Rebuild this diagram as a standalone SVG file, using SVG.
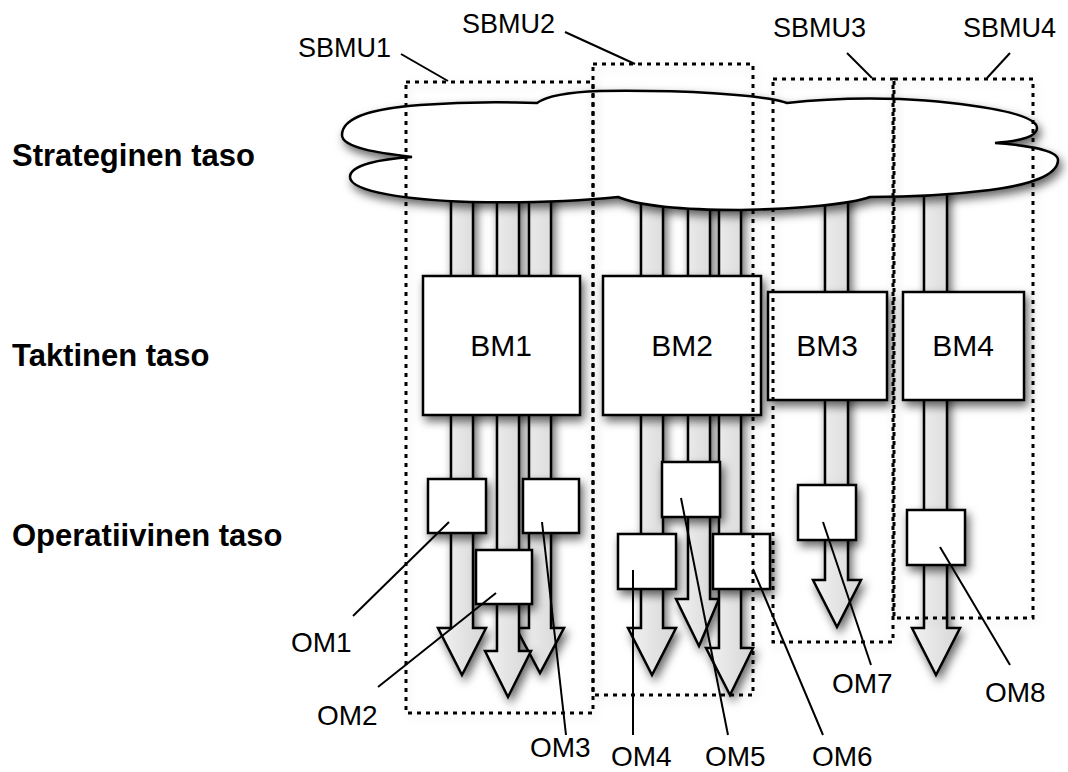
<svg xmlns="http://www.w3.org/2000/svg" width="1068" height="772" viewBox="0 0 1068 772">
<defs>
<filter id="sh" x="-30%" y="-30%" width="160%" height="160%">
<feDropShadow dx="3" dy="5" stdDeviation="5" flood-color="#000" flood-opacity="0.6"/>
</filter>
<filter id="shl" x="-10%" y="-10%" width="120%" height="120%">
<feDropShadow dx="2" dy="3" stdDeviation="4" flood-color="#000" flood-opacity="0.15"/>
</filter>
<linearGradient id="ag" x1="0" y1="0" x2="1" y2="0">
<stop offset="0" stop-color="#f2f2f2"/>
<stop offset="1" stop-color="#d6d6d6"/>
</linearGradient>
</defs>
<style>
.arr{fill:url(#ag);stroke:#000;stroke-width:2.5;stroke-linejoin:miter;filter:url(#sh)}
.box{fill:#fff;stroke:#000;stroke-width:2.5;filter:url(#sh)}
.dash{fill:none;stroke:#000;stroke-width:3;stroke-dasharray:4 5;filter:url(#shl)}
.lead{stroke:#000;stroke-width:2;fill:none}
.lvl{font-family:"Liberation Sans",Arial,sans-serif;font-weight:bold;font-size:31px;fill:#000}
.bm{font-family:"Liberation Sans",Arial,sans-serif;font-size:30px;fill:#000;text-anchor:middle}
.lbl{font-family:"Liberation Sans",Arial,sans-serif;font-size:28px;fill:#000}
.sb{font-family:"Liberation Sans",Arial,sans-serif;font-size:27px;fill:#000}
</style>

<g id="level-labels">
<text class="lvl" x="12" y="166">Strateginen taso</text>
<text class="lvl" x="12" y="366">Taktinen taso</text>
<text class="lvl" x="12" y="546">Operatiivinen taso</text>
</g>

<g id="arrows">
<path class="arr" d="M451,180 L473,180 L473,628 L486,628 L462,675 L438,628 L451,628 Z"/>
<path class="arr" d="M529,180 L551,180 L551,628 L564,628 L540,673 L516,628 L529,628 Z"/>
<path class="arr" d="M497,180 L519,180 L519,651 L531,651 L508,697 L485,651 L497,651 Z"/>
<path class="arr" d="M641,180 L663,180 L663,628 L676,628 L652,675 L628,628 L641,628 Z"/>
<path class="arr" d="M688,180 L710,180 L710,599 L719,599 L699,646 L676,599 L688,599 Z"/>
<path class="arr" d="M719,180 L741,180 L741,648 L753,648 L730,695 L706,648 L719,648 Z"/>
<path class="arr" d="M825,180 L848,180 L848,580 L861,580 L837,627 L813,580 L825,580 Z"/>
<path class="arr" d="M924,180 L947,180 L947,628 L960,628 L936,675 L912,628 L924,628 Z"/>
</g>

<g id="cloud">
<path fill="#fff" stroke="#000" stroke-width="2.5" filter="url(#sh)" d="M412,157 C380,153 342,148 342,135 C342,115 380,108 420,105 C460,102 510,102 537,103 C548,95 570,92 600,91 C680,90 760,94 787,103 C830,98 870,98 900,99 C960,102 1037,112 1037,128 C1037,137 1020,141 995,143 C1025,145 1058,150 1058,160 C1058,175 1030,185 990,190 C950,195 900,197 870,197 C850,204 800,209 740,210 C680,210 640,206 618,197 C580,201 520,203 470,202 C410,200 350,192 350,177 C350,165 380,159 412,157 Z"/>
</g>

<g id="BM1"><rect class="box" x="423" y="276" width="157" height="139"/><text class="bm" x="501" y="356">BM1</text></g>
<g id="BM2"><rect class="box" x="603" y="276" width="158" height="139"/><text class="bm" x="682" y="356">BM2</text></g>
<g id="BM3"><rect class="box" x="768" y="292" width="119" height="108"/><text class="bm" x="827" y="356">BM3</text></g>
<g id="BM4"><rect class="box" x="903" y="292" width="121" height="108"/><text class="bm" x="963" y="356">BM4</text></g>

<g id="OM1"><rect class="box" x="428" y="479" width="58" height="54"/></g>
<g id="OM3"><rect class="box" x="523" y="479" width="56" height="54"/></g>
<g id="OM2"><rect class="box" x="476" y="550" width="56" height="54"/></g>
<g id="OM5"><rect class="box" x="662" y="462" width="58" height="55"/></g>
<g id="OM4"><rect class="box" x="618" y="534" width="58" height="55"/></g>
<g id="OM6"><rect class="box" x="713" y="534" width="57" height="55"/></g>
<g id="OM7"><rect class="box" x="798" y="485" width="58" height="55"/></g>
<g id="OM8"><rect class="box" x="907" y="510" width="58" height="55"/></g>

<g id="SBMU1"><rect class="dash" x="406" y="82" width="187" height="631"/></g>
<g id="SBMU2"><rect class="dash" x="593" y="64" width="160" height="631"/></g>
<g id="SBMU3"><rect class="dash" x="773" y="79" width="120" height="563"/></g>
<g id="SBMU4"><rect class="dash" x="894" y="79" width="139" height="539"/></g>

<g id="connectors">
<line class="lead" x1="401" y1="54" x2="448" y2="81"/>
<line class="lead" x1="565" y1="32" x2="635" y2="64"/>
<line class="lead" x1="847" y1="53" x2="872" y2="78"/>
<line class="lead" x1="1010" y1="53" x2="987" y2="78"/>
<line class="lead" x1="449" y1="522" x2="353" y2="616"/>
<line class="lead" x1="496" y1="593" x2="378" y2="687"/>
<line class="lead" x1="542" y1="522" x2="566" y2="735"/>
<line class="lead" x1="633" y1="570" x2="633" y2="735"/>
<line class="lead" x1="681" y1="498" x2="728" y2="735"/>
<line class="lead" x1="753" y1="569" x2="823" y2="735"/>
<line class="lead" x1="823" y1="522" x2="871" y2="665"/>
<line class="lead" x1="940" y1="547" x2="1010" y2="665"/>
</g>

<g id="labels">
<text class="sb" x="298" y="57">SBMU1</text>
<text class="sb" x="462" y="33">SBMU2</text>
<text class="sb" x="773" y="37">SBMU3</text>
<text class="sb" x="963" y="37">SBMU4</text>
<text class="lbl" x="291" y="652">OM1</text>
<text class="lbl" x="317" y="725">OM2</text>
<text class="lbl" x="530" y="757">OM3</text>
<text class="lbl" x="611" y="766">OM4</text>
<text class="lbl" x="705" y="766">OM5</text>
<text class="lbl" x="812" y="766">OM6</text>
<text class="lbl" x="832" y="693">OM7</text>
<text class="lbl" x="985" y="702">OM8</text>
</g>
</svg>
